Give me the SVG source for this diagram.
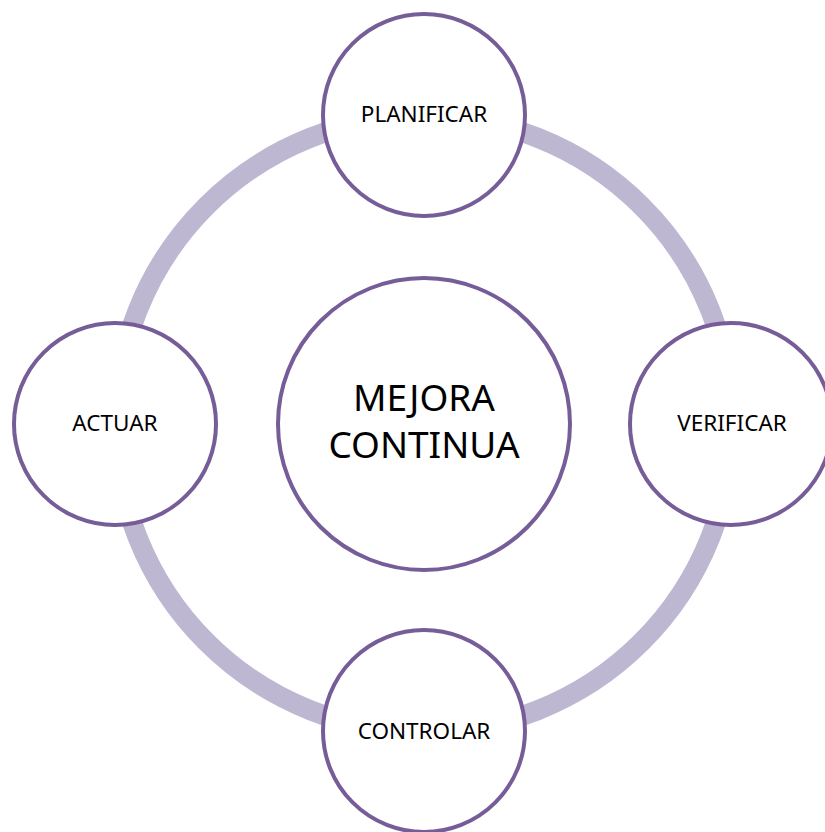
<svg xmlns="http://www.w3.org/2000/svg" width="825" height="832" viewBox="0 0 825 832">
<style>
.node{fill:#fff;stroke:#765D98;stroke-width:4}
.lbl{font-family:"Noto Sans","Open Sans",sans-serif;font-size:22.5px;fill:#000;text-anchor:middle}
.big{font-family:"Noto Sans","Open Sans",sans-serif;font-size:37px;fill:#000;text-anchor:middle}
</style>
<rect width="825" height="832" fill="#fff"/>
<g id="connectors">
<circle cx="424" cy="424" r="308" fill="none" stroke="#BEB7D2" stroke-width="20"/>
</g>
<g id="center">
<circle class="node" cx="424" cy="424" r="146"/>
<text class="big" x="424" y="411">MEJORA</text>
<text class="big" x="424" y="458">CONTINUA</text>
</g>
<g id="planificar">
<circle class="node" cx="424" cy="115" r="101"/>
<text class="lbl" x="424" y="122">PLANIFICAR</text>
</g>
<g id="verificar">
<circle class="node" cx="731" cy="424" r="101"/>
<text class="lbl" x="732" y="431">VERIFICAR</text>
</g>
<g id="controlar">
<circle class="node" cx="424" cy="731" r="101"/>
<text class="lbl" x="424" y="739">CONTROLAR</text>
</g>
<g id="actuar">
<circle class="node" cx="115" cy="424" r="101"/>
<text class="lbl" x="115" y="431">ACTUAR</text>
</g>
</svg>
